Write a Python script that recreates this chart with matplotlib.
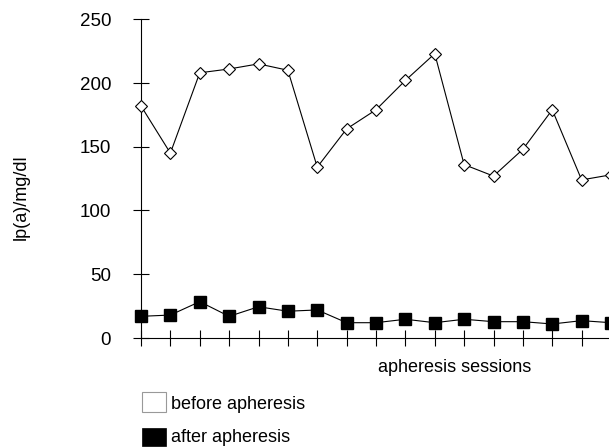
"""Lp(a) before and after apheresis, per session."""

import matplotlib
matplotlib.use("Agg")
import matplotlib.pyplot as plt
import numpy as np
from matplotlib.patches import Rectangle

plt.rcParams["font.family"] = ["Liberation Sans", "DejaVu Sans"]

# values (mg/dl), one per apheresis session
SESSIONS = np.arange(17)
BEFORE = [182, 145, 208, 211, 215, 210, 134, 164, 179, 202, 223, 136, 127, 148, 179, 124, 128]
AFTER = [17, 18, 28.5, 17, 24.5, 21, 22, 12, 12, 14.7, 12, 14.7, 12.8, 12.8, 11, 13.6, 12]
Y_TICKS = [0, 50, 100, 150, 200, 250]
LEGEND_LABELS = ["before apheresis", "after apheresis"]

W, H = 609, 448
FONT = 13


def px(x, y):
    """Pixel position (from top-left) -> figure fraction."""
    return x / W, 1 - y / H


def main() -> None:
    fig = plt.figure(figsize=(W / 100, H / 100), dpi=100)
    # axes placed in pixel terms so the y-axis sits at x=141 and the plot runs off the right edge
    ax = fig.add_axes([141 / W, 110 / H, (611 - 141) / W, 318.75 / H])

    ax.plot(SESSIONS, BEFORE, "-", color="black", lw=0.8, marker="D", ms=6.5,
            mfc="white", mec="black", mew=0.8, clip_on=False, zorder=3)
    ax.plot(SESSIONS, AFTER, "-", color="black", lw=0.8, marker="s", ms=9,
            mfc="black", mec="black", clip_on=False, zorder=3)

    ax.set_xlim(0, 16)
    ax.set_ylim(0, 250)
    ax.set_yticks(Y_TICKS)
    ax.set_xticks(SESSIONS[:-1])
    ax.set_xticklabels([])
    ax.tick_params(axis="both", direction="inout", length=11, width=0.8, labelsize=13.5)
    ax.tick_params(axis="y", pad=16)
    for side in ("top", "right"):
        ax.spines[side].set_visible(False)
    for side in ("left", "bottom"):
        ax.spines[side].set_linewidth(0.8)

    ax.set_ylabel("lp(a)/mg/dl", fontsize=FONT)
    ax.yaxis.set_label_coords(-0.236, 0.442)
    fig.text(*px(455, 368), "apheresis sessions", fontsize=FONT, ha="center", va="center")

    # legend drawn by hand, sitting right at the bottom edge like the original
    fig.add_artist(Rectangle(px(142, 411.5), 24 / W, 19.5 / H, transform=fig.transFigure,
                             facecolor="white", edgecolor="#999999", lw=0.8))
    fig.add_artist(Rectangle(px(142, 446), 24 / W, 18 / H, transform=fig.transFigure,
                             facecolor="black", edgecolor="black", lw=0.5))
    fig.text(*px(171, 409), LEGEND_LABELS[0], fontsize=FONT, va="baseline")
    fig.text(*px(171, 442), LEGEND_LABELS[1], fontsize=FONT, va="baseline")

    fig.savefig("out.png", dpi=100)
    plt.close(fig)


if __name__ == "__main__":
    main()
